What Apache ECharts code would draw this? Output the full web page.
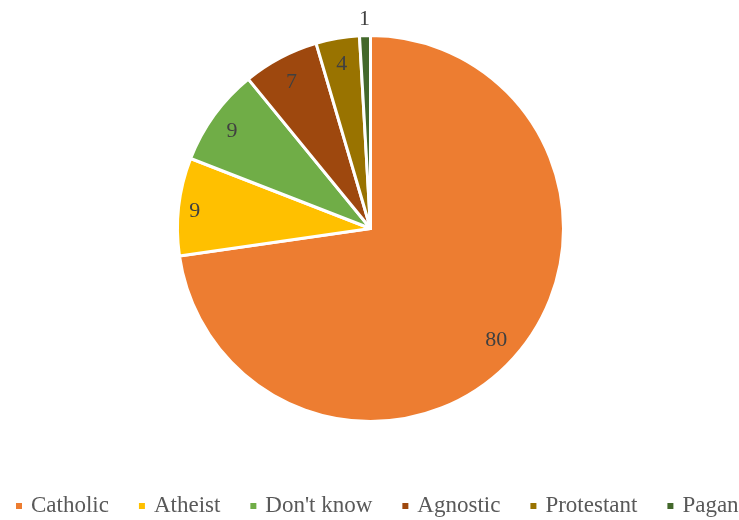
<!DOCTYPE html>
<html><head><meta charset="utf-8">
<script src="https://cdn.jsdelivr.net/npm/echarts@6/dist/echarts.min.js"></script>
<style>html,body{margin:0;padding:0;background:#fff}#c{width:739px;height:520px}</style>
</head><body><div id="c"></div>
<script>
const categories = ["Catholic", "Atheist", "Don't know", "Agnostic", "Protestant", "Pagan"];
const values = [80, 9, 9, 7, 4, 1];
const colors = ["#ED7D31", "#FFC000", "#70AD47", "#9E480E", "#997300", "#43682B"];

const CX = 370.5, CY = 228.5, R = 193;
const total = values.reduce((a, b) => a + b, 0);

const chart = echarts.init(document.getElementById('c'));
const mainData = categories.map((n, i) => ({ name: n, value: values[i], itemStyle: { color: colors[i] } }));

chart.setOption({
  animation: false,
  legend: {
    top: 493, left: 14, width: 725, padding: 0, icon: 'rect', itemWidth: 8, itemHeight: 8, itemGap: 28,
    textStyle: { fontFamily: 'Liberation Serif', fontSize: 23, lineHeight: 26, color: '#595959', padding: [0, 0, 0, 3] },
    data: categories
  },
  series: [
    {
      type: 'pie', center: [CX, CY], radius: [0, R], startAngle: 90, clockwise: true,
      itemStyle: { borderColor: '#fff', borderWidth: 3 },
      label: { show: true, position: 'inside', formatter: '{c}', fontFamily: 'Liberation Serif', fontSize: 22, lineHeight: 28, color: '#404040' },
      labelLine: { show: false },
      labelLayout: function (p) {
        const r = p.labelRect;
        const lx = r.x + r.width / 2, ly = r.y + r.height / 2;
        const vx = lx - CX, vy = ly - CY;
        const len = Math.hypot(vx, vy) || 1;
        const ux = vx / len, uy = vy / len;
        const ext = Math.abs(ux) * r.width / 2 + Math.abs(uy) * r.height / 2;
        const small = values[p.dataIndex] / total < 0.02;
        const target = small ? R + 5 + ext : R - 9 - ext;
        return { dx: ux * (target - len), dy: uy * (target - len) + 3 };
      },
      data: mainData, emphasis: { disabled: true }
    }
  ]
});
</script></body></html>
